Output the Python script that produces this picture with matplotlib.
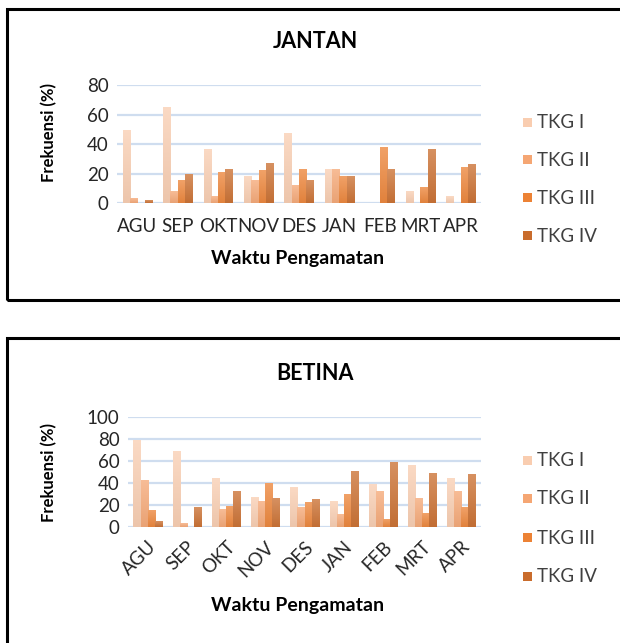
import numpy as np
import matplotlib
matplotlib.use("Agg")
import matplotlib.pyplot as plt
from matplotlib.patches import Rectangle
from matplotlib.colors import to_rgb

plt.rcParams['font.family'] = ['Lato', 'DejaVu Sans']

# Frekuensi TKG per bulan pengamatan (%)
bulan = ["AGU", "SEP", "OKT", "NOV", "DES", "JAN", "FEB", "MRT", "APR"]
tkg_labels = ["TKG I", "TKG II", "TKG III", "TKG IV"]

jantan_tkg1 = [49, 65, 36, 18, 47, 22.6, 0, 7.7, 4.5]
jantan_tkg2 = [3, 8, 4.5, 15, 12, 22.6, 0, 0, 0]
jantan_tkg3 = [0, 15, 21, 22, 22.6, 18, 37.7, 10.2, 24.4]
jantan_tkg4 = [2, 19, 22.6, 26.5, 15, 18, 22.6, 36.6, 25.8]

betina_tkg1 = [79, 69, 44, 27, 35.5, 23.5, 38.6, 56, 44]
betina_tkg2 = [42, 3, 16, 23.5, 18, 11.4, 32.2, 25.6, 32.2]
betina_tkg3 = [15, 0, 19, 40, 22.6, 29.8, 7.2, 12.7, 18]
betina_tkg4 = [5, 18, 32, 25.6, 24.7, 50.6, 58.4, 48.5, 47.3]

warna = ["#F9CDB0", "#F5A673", "#EC8235", "#C96C2C"]

W, H = 620, 643
fig = plt.figure(figsize=(W / 100, H / 100), dpi=100)


def px_axes(x0, y_top, x1, y_bot):
    return fig.add_axes([x0 / W, 1 - y_bot / H, (x1 - x0) / W, (y_bot - y_top) / H])


def gradient_bar(ax, x, width, height, color):
    if height <= 0:
        return
    base = np.array(to_rgb(color))
    top = base + (1 - base) * 0.25
    bottom = base * 0.9 + np.array([0.5, 0.5, 0.5]) * 0.1
    t = np.linspace(0, 1, 64)[:, None]
    img = (bottom * (1 - t) + top * t)[:, None, :]
    ax.imshow(img, extent=[x - width / 2, x + width / 2, 0, height],
              origin="lower", aspect="auto", zorder=3, interpolation="bilinear")


def draw_panel(ax, series, ymax, step, rotate):
    bw = 0.18
    offsets = [-0.27, -0.09, 0.09, 0.27]
    x = np.arange(len(bulan))
    for vals, off, col in zip(series, offsets, warna):
        for xi, v in zip(x, vals):
            gradient_bar(ax, xi + off, bw, v, col)
    ax.set_xlim(-0.5, len(bulan) - 0.5)
    ax.set_ylim(0, ymax)
    ax.set_yticks(np.arange(0, ymax + 1, step))
    for yv in np.arange(0, ymax + 1, step):
        ax.axhline(yv, color="#CFDDEF", lw=1.6, zorder=1)
    for s in ax.spines.values():
        s.set_visible(False)
    ax.tick_params(length=0, labelsize=13.5, colors="#262626", pad=6)
    ax.set_xticks(x)
    if rotate:
        ax.set_xticklabels(bulan, rotation=45, ha="right", va="top",
                           rotation_mode="anchor")
        ax.tick_params(axis="x", pad=8)
    else:
        ax.set_xticklabels(bulan)
        ax.tick_params(axis="x", pad=11)
    ax.set_facecolor("none")


# kotak bingkai
fig.patches.append(Rectangle((7 / W, 1 - 300 / H), 640 / W, 291 / H,
                             transform=fig.transFigure, fill=False,
                             ec="black", lw=2.2))
fig.patches.append(Rectangle((7 / W, 1 - 700 / H), 640 / W, 362 / H,
                             transform=fig.transFigure, fill=False,
                             ec="black", lw=2.2))

ax1 = px_axes(117, 85, 481, 203)
draw_panel(ax1, [jantan_tkg1, jantan_tkg2, jantan_tkg3, jantan_tkg4], 80, 20, False)

ax2 = px_axes(128, 417, 481, 527)
draw_panel(ax2, [betina_tkg1, betina_tkg2, betina_tkg3, betina_tkg4], 100, 20, True)

# judul dan label sumbu
fig.text(315 / W, 1 - 42 / H, "JANTAN", ha="center", va="center",
         fontsize=15.5, fontweight="bold", color="black")
fig.text(315 / W, 1 - 374 / H, "BETINA", ha="center", va="center",
         fontsize=15.5, fontweight="bold", color="black")
for yc, ylab in [(132, "Frekuensi (%)"), (472, "Frekuensi (%)")]:
    fig.text(49 / W, 1 - yc / H, ylab, ha="center", va="center", rotation=90,
             fontsize=12, fontweight="bold", color="black")
fig.text(298 / W, 1 - 258 / H, "Waktu Pengamatan", ha="center", va="center",
         fontsize=14, fontweight="bold", color="black")
fig.text(298 / W, 1 - 605 / H, "Waktu Pengamatan", ha="center", va="center",
         fontsize=14, fontweight="bold", color="black")

# legenda manual
for ys in ([123, 160, 198, 236], [461, 499, 538, 577]):
    for yv, lab, col in zip(ys, tkg_labels, warna):
        fig.patches.append(Rectangle((523 / W, 1 - (yv + 4) / H), 9 / W, 9 / H,
                                     transform=fig.transFigure, fc=col, ec="none"))
        fig.text(537 / W, 1 - yv / H, lab, ha="left", va="center",
                 fontsize=13.5, color="#404040")

fig.savefig("out.png", dpi=100, facecolor="white")
